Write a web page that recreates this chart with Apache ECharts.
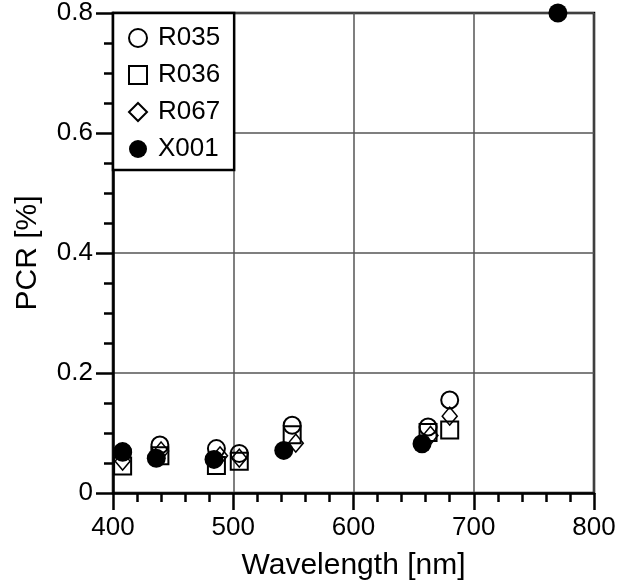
<!DOCTYPE html>
<html><head><meta charset="utf-8">
<script src="https://cdn.jsdelivr.net/npm/echarts@6/dist/echarts.min.js"></script>
<style>html,body{margin:0;padding:0;background:#fff}#c{width:635px;height:583px}</style>
</head><body><div id="c"></div>
<script>
const xTicks = [400, 500, 600, 700, 800];
const yTicks = [0, 0.2, 0.4, 0.6, 0.8];
const seriesNames = ['R035', 'R036', 'R067', 'X001'];
const R035 = [[408,0.069],[439,0.080],[486,0.074],[505,0.066],[549,0.113],[662,0.110],[680,0.155]];
const R036 = [[408,0.045],[439,0.062],[486,0.046],[505,0.053],[549,0.097],[662,0.101],[680,0.105]];
const R067 = [[408,0.053],[440,0.070],[489,0.062],[505,0.058],[552,0.083],[664,0.096],[680,0.128]];
const X001 = [[408,0.068],[436,0.058],[484,0.056],[542,0.071],[657,0.082],[770,0.800]];

const font = 'Liberation Sans, Arial, Helvetica, sans-serif';
const chart = echarts.init(document.getElementById('c'), null, {renderer: 'canvas'});
const hollow = {color: 'rgba(255,255,255,0)', borderColor: '#000', borderWidth: 2, opacity: 1};
chart.setOption({
  animation: false,
  backgroundColor: '#fff',
  grid: {left: 113, right: 41, top: 13, bottom: 90, containLabel: false, outerBoundsMode: 'none',
    show: true, borderColor: '#000', borderWidth: 2.5, backgroundColor: 'transparent'},
  legend: {
    orient: 'vertical', left: 113, top: 13,
    data: seriesNames,
    backgroundColor: '#fff', borderColor: '#000', borderWidth: 2.5,
    padding: [12, 14, 8, 15],
    itemWidth: 18, itemHeight: 18, itemGap: 11,
    textStyle: {fontFamily: font, fontSize: 26, color: '#000', padding: [0, 0, 0, 6]}
  },
  xAxis: {
    type: 'value', min: xTicks[0], max: xTicks[xTicks.length-1], interval: 100,
    name: 'Wavelength [nm]', nameLocation: 'middle', nameGap: 58,
    nameTextStyle: {fontFamily: font, fontSize: 30, color: '#000'},
    axisLine: {show: true, onZero: false, lineStyle: {color: '#000', width: 2.5}},
    axisTick: {show: true, inside: false, length: 17, lineStyle: {color: '#000', width: 2.5}},
    minorTick: {show: true, splitNumber: 5, length: 9, lineStyle: {color: '#000', width: 2.5}},
    axisLabel: {fontFamily: font, fontSize: 26, color: '#000', margin: 22},
    splitLine: {show: true, lineStyle: {color: '#555', width: 1.5}}
  },
  yAxis: {
    type: 'value', min: yTicks[0], max: yTicks[yTicks.length-1], interval: 0.2,
    name: 'PCR [%]', nameLocation: 'middle', nameGap: 70,
    nameTextStyle: {fontFamily: font, fontSize: 30, color: '#000'},
    axisLine: {show: true, onZero: false, lineStyle: {color: '#000', width: 2.5}},
    axisTick: {show: true, inside: false, length: 17, lineStyle: {color: '#000', width: 2.5}},
    minorTick: {show: true, splitNumber: 4, length: 9, lineStyle: {color: '#000', width: 2.5}},
    axisLabel: {fontFamily: font, fontSize: 26, color: '#000', margin: 20,
      formatter: v => v === 0 ? '0' : v.toFixed(1)},
    splitLine: {show: true, lineStyle: {color: '#555', width: 1.5}}
  },
  series: [
    {name: 'R035', type: 'scatter', data: R035, symbol: 'circle', symbolSize: 17, itemStyle: hollow, z: 2},
    {name: 'R036', type: 'scatter', data: R036, symbol: 'rect', symbolSize: 17, itemStyle: hollow, z: 3},
    {name: 'R067', type: 'scatter', data: R067, symbol: 'diamond', symbolSize: [15, 18], itemStyle: {color: 'rgba(255,255,255,0)', borderColor: '#000', borderWidth: 1.5, opacity: 1}, z: 4},
    {name: 'X001', type: 'scatter', data: X001, symbol: 'circle', symbolSize: 19, itemStyle: {color: '#000', opacity: 1}, z: 5}
  ]
});
</script></body></html>
